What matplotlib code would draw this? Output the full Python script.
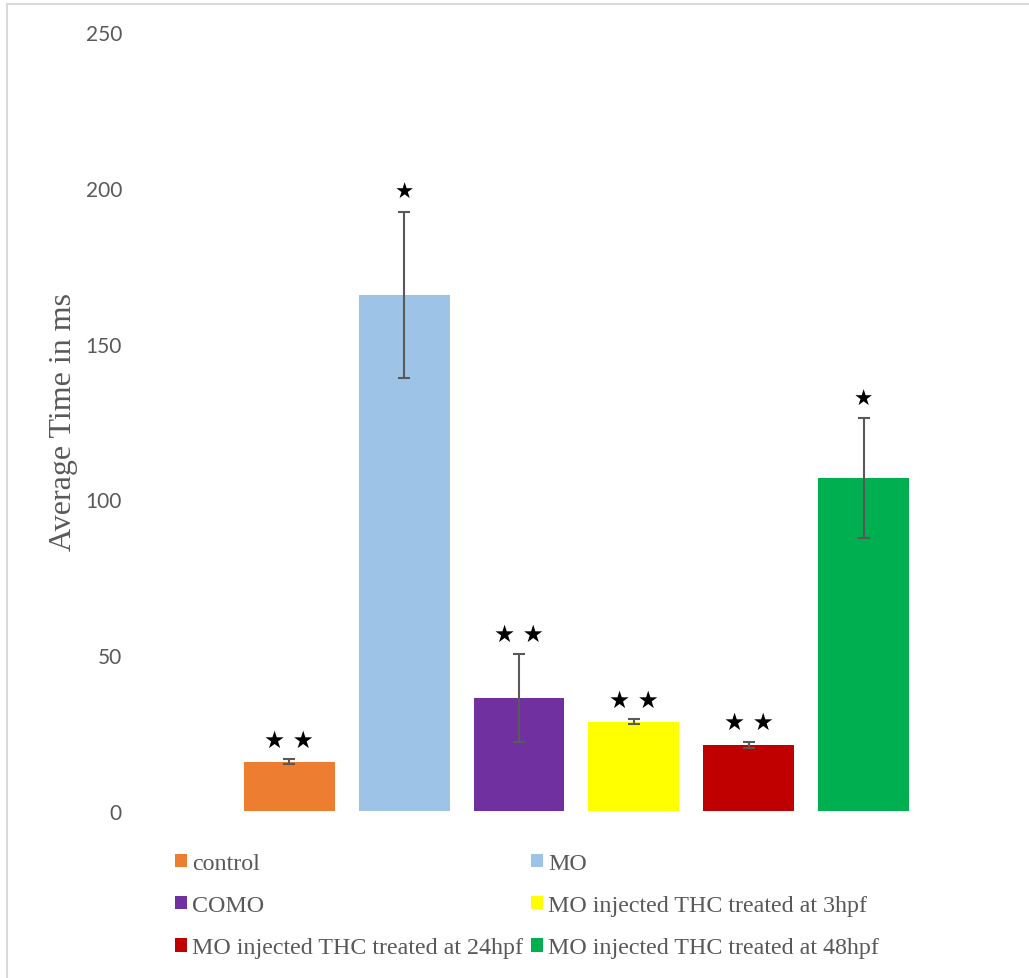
import matplotlib
matplotlib.use('Agg')
import matplotlib.pyplot as plt
from matplotlib.patches import Patch, Rectangle

# medias de tempo (ms) e erro padrao por grupo
grupos = ['control', 'MO', 'COMO', 'MO injected THC treated at 3hpf',
          'MO injected THC treated at 24hpf', 'MO injected THC treated at 48hpf']
medias = [15.8, 165.6, 36.3, 28.6, 21.2, 106.9]
erros = [0.8, 26.7, 14.2, 0.8, 1.1, 19.2]
estrelas = ['★ ★', '★', '★ ★', '★ ★', '★ ★', '★']
cores = ['#ED7D31', '#9DC3E6', '#7030A0', '#FFFF00', '#C00000', '#00B050']
yticks = [0, 50, 100, 150, 200, 250]

CINZA = '#595959'

W, H = 1029, 979
fig = plt.figure(figsize=(W / 100, H / 100), dpi=100)
ax = fig.add_axes([130 / W, 1 - 812 / H, (921 - 130) / W, (812 - 33) / H])

pos = list(range(1, len(grupos) + 1))
ax.bar(pos, medias, width=0.79, color=cores, zorder=2)
ax.errorbar(pos, medias, yerr=erros, fmt='none', ecolor=CINZA, elinewidth=1.5,
            capsize=4.5, capthick=1.5, zorder=3)

for x, m, e, s in zip(pos, medias, erros, estrelas):
    tam = 17 if len(s) > 1 else 15.5
    ax.annotate(s, xy=(x, m + e), xytext=(0, 14), textcoords='offset points',
                ha='center', va='center', fontsize=tam, color='black',
                family='DejaVu Sans', zorder=4)

ax.set_xlim(-0.387, 6.5)
ax.set_ylim(0, 250)
ax.set_yticks(yticks)
ax.set_xticks([])
ax.tick_params(axis='y', length=0, pad=5.8, labelsize=15, labelcolor=CINZA)
for t in ax.get_yticklabels():
    t.set_family('Lato')
for sp in ax.spines.values():
    sp.set_visible(False)

ax.set_ylabel('Average Time in ms', family='Liberation Serif', fontsize=23, color=CINZA)
ax.yaxis.set_label_coords(-0.066, 0.5)

# legenda em duas colunas (ordem por linha)
colunas = [[0, 2, 4], [1, 3, 5]]
x_col = [175, 531]
for idx, xc in zip(colunas, x_col):
    hs = [Patch(facecolor=cores[i], edgecolor='none') for i in idx]
    leg = fig.legend(hs, [grupos[i] for i in idx], loc='upper left',
                     bbox_to_anchor=(xc / W, 1 - 854 / H), frameon=False,
                     borderpad=0, borderaxespad=0, handlelength=0.5, handleheight=0.5,
                     handletextpad=0.2, labelspacing=0.88,
                     prop={'family': 'Liberation Serif', 'size': 17.3})
    for t in leg.get_texts():
        t.set_color(CINZA)

# moldura cinza clara
fig.add_artist(Rectangle((7 / W, -0.2), 1.5, 1 - 5 / H + 0.2, transform=fig.transFigure,
                         fill=False, edgecolor='#D9D9D9', linewidth=1.5))

fig.savefig('out.png', dpi=100)
